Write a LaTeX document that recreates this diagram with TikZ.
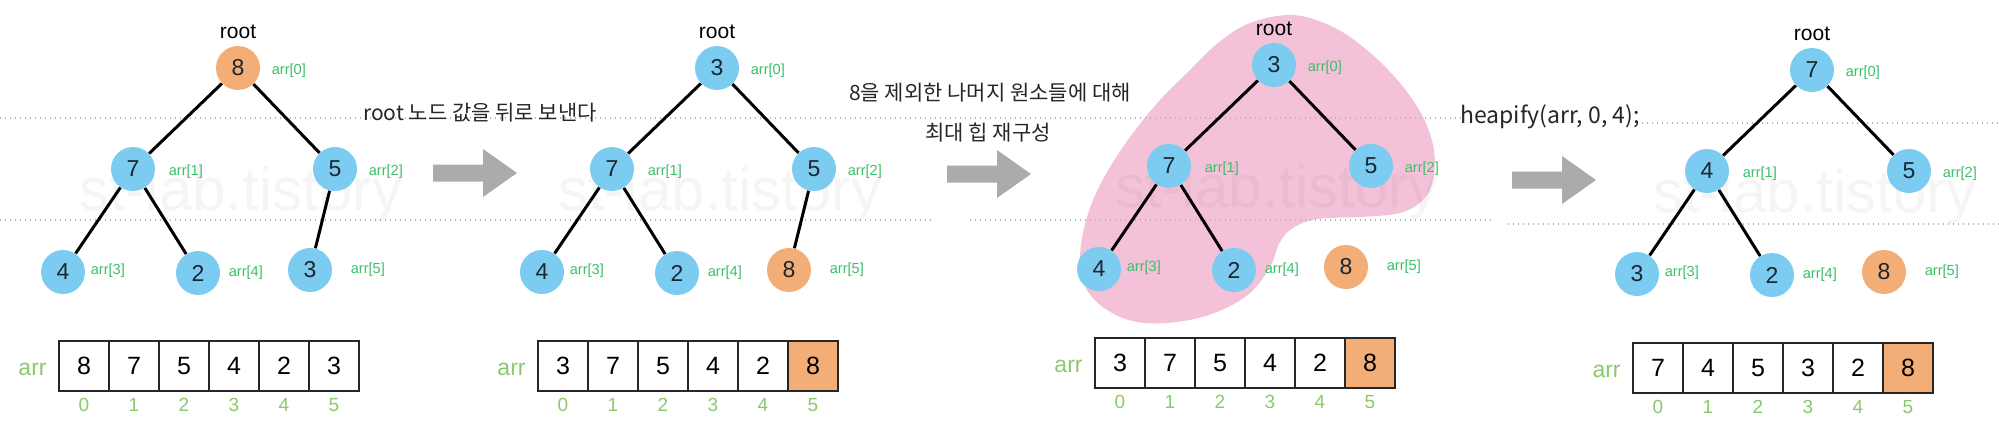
\documentclass[tikz,border=0pt]{standalone}
\usepackage{fontspec}
\setmainfont{Liberation Sans}
\newfontfamily\kr{Noto Sans CJK KR}
\usetikzlibrary{positioning}
\definecolor{heapblue}{HTML}{7CCBF1}
\definecolor{moved}{HTML}{F3AE78}
\definecolor{blob}{HTML}{F4C2D8}
\definecolor{tagreen}{HTML}{3DBE6B}
\definecolor{arrgreen}{HTML}{88C96C}
\definecolor{shaft}{HTML}{ABABAB}
\definecolor{ink}{HTML}{1B2631}

\begin{document}
\begin{tikzpicture}[x=0.5pt,y=-0.5pt,
 heapnode/.style={on grid,circle,fill=heapblue,minimum size=22pt,inner sep=0pt,text=ink,font=\fontsize{11.5}{12}\selectfont},
 link/.style={line width=1.5pt,black},
 cell/.style={draw=black!85,line width=0.9pt,minimum size=25pt,inner sep=0pt,outer sep=0pt,font=\fontsize{12.5}{13}\selectfont},
 tag/.style={inner sep=0pt,text=tagreen,font=\fontsize{7.3}{8}\selectfont},
 idx/.style={inner sep=0pt,text=arrgreen,font=\fontsize{9.5}{10}\selectfont},
 arrtag/.style={inner sep=0pt,text=arrgreen,font=\fontsize{11.5}{12}\selectfont},
 rootlbl/.style={inner sep=0pt,font=\fontsize{10.5}{11}\selectfont},
 note/.style={inner sep=0pt,text=black!85,font=\kr\fontsize{10.5}{12}\selectfont},
 guide/.style={gray!60,line width=0.6pt,dash pattern=on 0.6pt off 1.9pt},
 watermark/.style={inner sep=0pt,text=black,opacity=0.04,font=\fontsize{30}{30}\selectfont}]
\useasboundingbox (0,0) rectangle (1999,439);

% max heap area without the moved 8
\fill[blob] plot[smooth cycle,tension=0.6] coordinates {
 (1293,15) (1333,27) (1367,50) (1400,83) (1423,117) (1434,150) (1433,180)
 (1423,200) (1400,213) (1360,217) (1317,219) (1293,228) (1280,242) (1270,267)
 (1250,293) (1217,312) (1177,322) (1137,322) (1107,310) (1087,290) (1080,265)
 (1083,233) (1093,200) (1110,167) (1133,133) (1160,100) (1188,72) (1218,43) (1250,23)};

% dotted guides
\draw[guide] (0,118) -- (1463,118);
\draw[guide] (1637,123) -- (1999,123);
\draw[guide] (0,220) -- (935,220);
\draw[guide] (970,220) -- (1492,220);
\draw[guide] (1508,224) -- (1999,224);

% step arrows
\foreach \ax/\ay in {433/173,947/174,1512/180}
  \fill[shaft] (\ax,\ay-8.5) -- (\ax+50,\ay-8.5) -- (\ax+50,\ay-24) -- (\ax+84,\ay)
    -- (\ax+50,\ay+24) -- (\ax+50,\ay+8.5) -- (\ax,\ay+8.5) -- cycle;

\node[note] (msgA) at (480,113) {root 노드 값을 뒤로 보낸다};
\node[note] (msgB) at (990,93) {8을 제외한 나머지 원소들에 대해};
\node[note] (msgC) at (988,133) {최대 힙 재구성};
\node[note,font=\kr\fontsize{11.5}{12}\selectfont] (msgD) at (1550,117) {heapify(arr, 0, 4);};

\foreach \p/\rx/\ry/\va/\vb/\vc/\vd/\ve/\vf in
  {1/238/68/8/7/5/4/2/3, 2/717/68/3/7/5/4/2/8, 3/1274/65/3/7/5/4/2/8, 4/1812/70/7/4/5/3/2/8}{
  \ifnum\p=1 \def\topcol{moved}\def\lastcol{heapblue}\else\def\topcol{heapblue}\def\lastcol{moved}\fi
  \node[watermark,anchor=base] (wm\p) at (\rx+3,\ry+142) {st-lab.tistory};
  % tree
  \node[heapnode,fill=\topcol] (top\p) at (\rx,\ry) {\va};
  \node[heapnode,below left=50.5pt and 52.5pt of top\p] (lft\p) {\vb};
  \node[heapnode,below right=50.5pt and 48.5pt of top\p] (rgt\p) {\vc};
  \node[heapnode,below left=51.5pt and 35pt of lft\p] (ll\p) {\vd};
  \node[heapnode,below right=52pt and 32.5pt of lft\p] (lr\p) {\ve};
  \node[heapnode,fill=\lastcol,below left=50.5pt and 12.5pt of rgt\p] (rl\p) {\vf};
  \draw[link] (top\p) -- (lft\p);
  \draw[link] (top\p) -- (rgt\p);
  \draw[link] (lft\p) -- (ll\p);
  \draw[link] (lft\p) -- (lr\p);
  \ifnum\p<3 \draw[link] (rgt\p) -- (rl\p);\fi
  \node[rootlbl,above=3pt of top\p] (rootname\p) {root};
  \node[tag,right=5.5pt of top\p,yshift=-1.5pt] {arr[0]};
  \node[tag,right=6.5pt of lft\p,yshift=-1.5pt] {arr[1]};
  \node[tag,right=5.5pt of rgt\p,yshift=-1.5pt] {arr[2]};
  \node[tag,right=2.5pt of ll\p,yshift=0.5pt] {arr[3]};
  \node[tag,right=4pt of lr\p] {arr[4]};
  \node[tag,right=9pt of rl\p] {arr[5]};
  % array
  \foreach \v [count=\i from 0] in {\va,\vb,\vc,\vd,\ve,\vf}{
    \def\cellcol{white}
    \ifnum\p>1 \ifnum\i=5 \def\cellcol{moved}\fi\fi
    \node[cell,fill=\cellcol] (c\p-\i) at (\rx-154+50*\i,\ry+298) {\v};
    \node[idx,below=3.5pt of c\p-\i] (i\p-\i) {\i};
  }
  \node[arrtag,left=6pt of c\p-0,yshift=-1.5pt] (arr\p) {arr};
}
\end{tikzpicture}
\end{document}
